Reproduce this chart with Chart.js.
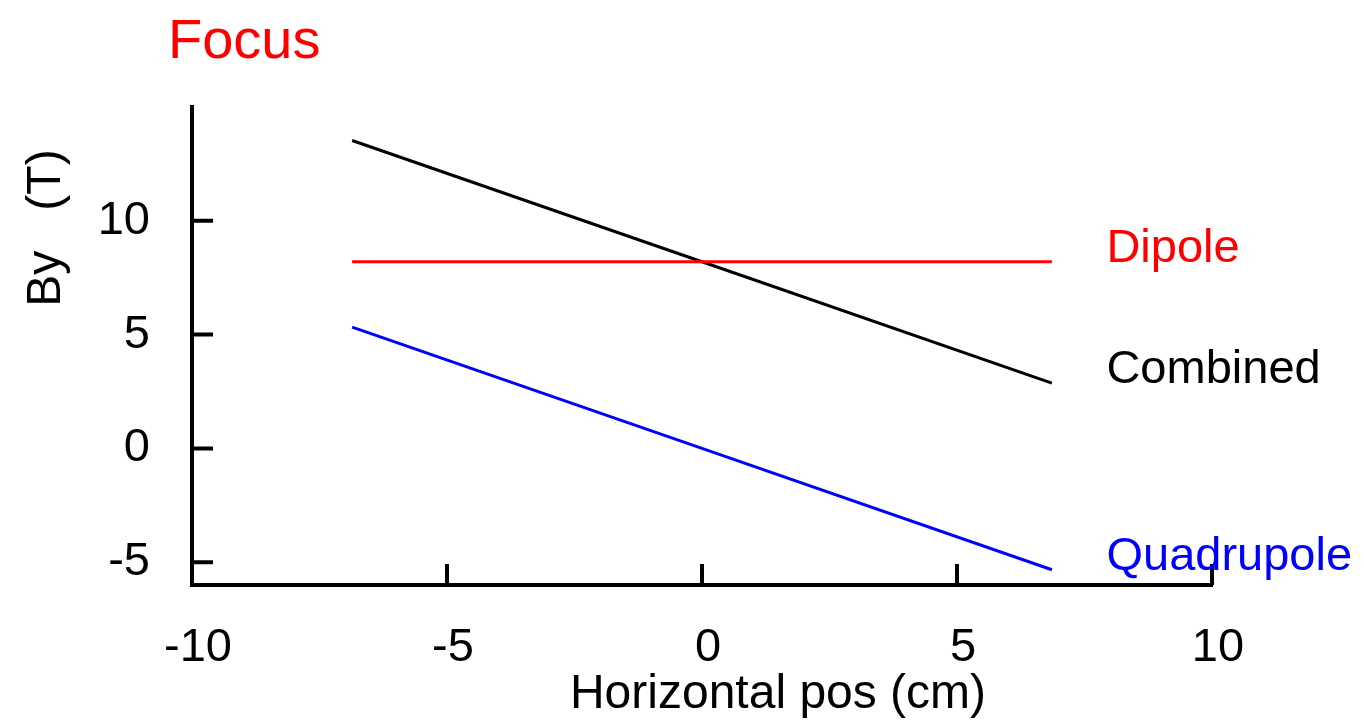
<!DOCTYPE html>
<html>
<head>
<meta charset="utf-8">
<script src="https://cdn.jsdelivr.net/npm/chart.js@4"></script>
<style>
  html, body { margin: 0; padding: 0; background: #fff; }
  #wrap { width: 1364px; height: 723px; }
</style>
</head>
<body>
<div id="wrap"><canvas id="chart" width="1364" height="723"></canvas></div>
<script>
// Horizontal position (cm) sampled along the magnet
const positions = [-6.86, 0, 6.86];

// Field values (T)
const dipole = [8.2, 8.2, 8.2];
const quadrupole = [5.33, 0, -5.33];
const combined = [13.53, 8.2, 2.87];

// Tick values on each axis
const xTicks = [-10, -5, 0, 5, 10];
const yTicks = [-5, 0, 5, 10];

const FONT = '"Liberation Sans", Arial, sans-serif';

function toPoints(values) {
    return positions.map((x, i) => ({ x: x, y: values[i] }));
}

// Series labels sit at the right end of each line
const seriesLabels = [
    { text: 'Dipole', color: '#ff0000', values: dipole },
    { text: 'Combined', color: '#000000', values: combined },
    { text: 'Quadrupole', color: '#0000ff', values: quadrupole }
];

// Draws inward tick marks, axis titles, the title and the line labels
const decorations = {
    id: 'decorations',
    afterDraw(chart) {
        const ctx = chart.ctx;
        const xs = chart.scales.x;
        const ys = chart.scales.y;
        const area = chart.chartArea;

        ctx.save();
        ctx.strokeStyle = '#000';
        ctx.lineWidth = 4;
        ctx.beginPath();
        xTicks.forEach(v => {
            const px = xs.getPixelForValue(v);
            ctx.moveTo(px, area.bottom);
            ctx.lineTo(px, area.bottom - 21);
        });
        yTicks.forEach(v => {
            const py = ys.getPixelForValue(v);
            ctx.moveTo(area.left, py);
            ctx.lineTo(area.left + 21, py);
        });
        ctx.stroke();

        // Title
        ctx.fillStyle = '#ff0000';
        ctx.font = '56px ' + FONT;
        ctx.textAlign = 'left';
        ctx.textBaseline = 'alphabetic';
        ctx.fillText('Focus', 168, 58);

        // X axis title
        ctx.fillStyle = '#000';
        ctx.font = '48px ' + FONT;
        ctx.textAlign = 'center';
        ctx.fillText('Horizontal pos (cm)', 778, 708);

        // Y axis title
        ctx.save();
        ctx.translate(60, 228);
        ctx.rotate(-Math.PI / 2);
        ctx.fillText('By   (T)', 0, 0);
        ctx.restore();

        // Line labels
        ctx.font = '47px ' + FONT;
        ctx.textAlign = 'left';
        seriesLabels.forEach(s => {
            const last = s.values[s.values.length - 1];
            ctx.fillStyle = s.color;
            ctx.fillText(s.text, xs.getPixelForValue(7.93), ys.getPixelForValue(last));
        });
        ctx.restore();
    }
};

new Chart(document.getElementById('chart'), {
    type: 'line',
    data: {
        datasets: [
            { label: 'Dipole', data: toPoints(dipole), borderColor: '#ff0000' },
            { label: 'Combined', data: toPoints(combined), borderColor: '#000000' },
            { label: 'Quadrupole', data: toPoints(quadrupole), borderColor: '#0000ff' }
        ]
    },
    options: {
        responsive: false,
        animation: false,
        layout: { padding: { left: 0, top: 107, right: 152, bottom: 0 } },
        elements: {
            line: { borderWidth: 3, tension: 0 },
            point: { radius: 0 }
        },
        plugins: {
            legend: { display: false },
            tooltip: { enabled: false }
        },
        scales: {
            x: {
                type: 'linear',
                min: -10,
                max: 10,
                afterBuildTicks: scale => { scale.ticks = xTicks.map(v => ({ value: v })); },
                afterFit: scale => { scale.height = 138; },
                grid: { display: false, drawTicks: false },
                border: { display: true, width: 4, color: '#000' },
                ticks: {
                    color: '#000',
                    padding: 35,
                    labelOffset: 6,
                    maxRotation: 0,
                    autoSkip: false,
                    font: { family: FONT, size: 47 }
                }
            },
            y: {
                type: 'linear',
                min: -6,
                max: 15,
                afterBuildTicks: scale => { scale.ticks = yTicks.map(v => ({ value: v })); },
                afterFit: scale => { scale.width = 192; },
                grid: { display: false, drawTicks: false },
                border: { display: true, width: 4, color: '#000' },
                ticks: {
                    color: '#000',
                    padding: 42,
                    autoSkip: false,
                    font: { family: FONT, size: 47 }
                }
            }
        }
    },
    plugins: [decorations]
});
</script>
</body>
</html>
